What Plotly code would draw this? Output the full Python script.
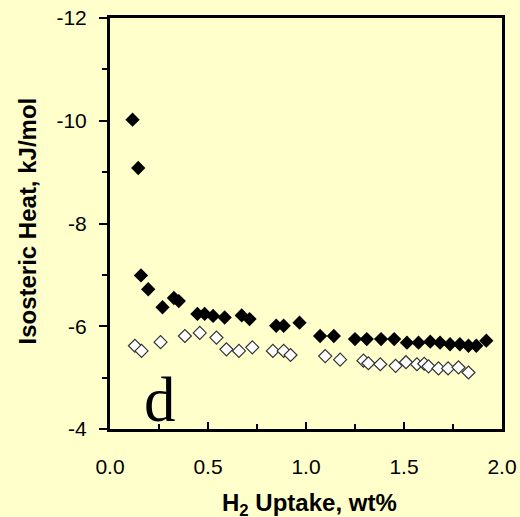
import plotly.graph_objects as go

# Filled diamonds
x_filled = [0.115, 0.144, 0.158, 0.195, 0.268, 0.326, 0.351, 0.446, 0.483, 0.526, 0.585, 0.672, 0.712,
            0.848, 0.886, 0.967, 1.072, 1.142, 1.250, 1.310, 1.383, 1.450, 1.515, 1.574, 1.634, 1.684,
            1.735, 1.785, 1.829, 1.869, 1.920]
y_filled = [-10.02, -9.08, -6.99, -6.72, -6.37, -6.55, -6.49, -6.24, -6.24, -6.20, -6.17, -6.21, -6.14,
            -6.01, -6.01, -6.07, -5.81, -5.81, -5.75, -5.75, -5.75, -5.75, -5.68, -5.68, -5.70, -5.68,
            -5.65, -5.65, -5.62, -5.62, -5.72]

# Open diamonds
x_open = [0.127, 0.161, 0.258, 0.382, 0.458, 0.543, 0.594, 0.658, 0.726, 0.831, 0.886, 0.921,
          1.098, 1.174, 1.293, 1.318, 1.379, 1.457, 1.510, 1.566, 1.603, 1.625, 1.676, 1.725, 1.778, 1.829]
y_open = [-5.62, -5.52, -5.69, -5.81, -5.87, -5.78, -5.55, -5.52, -5.59, -5.52, -5.52, -5.44,
          -5.42, -5.35, -5.33, -5.28, -5.26, -5.23, -5.30, -5.26, -5.27, -5.22, -5.18, -5.18, -5.20, -5.10]

y_tickvals = [-12, -10, -8, -6, -4]
y_ticktext = ["-12", "-10", "-8", "-6", "-4"]
x_tickvals = [0.0, 0.5, 1.0, 1.5, 2.0]
x_ticktext = ["0.0", "0.5", "1.0", "1.5", "2.0"]

bg = "#FFFFCC"

fig = go.Figure()
fig.add_trace(go.Scatter(x=x_open, y=y_open, mode="markers",
                         marker=dict(symbol="diamond", size=10, color="white",
                                     line=dict(color="#333333", width=1.2)),
                         showlegend=False))
fig.add_trace(go.Scatter(x=x_filled, y=y_filled, mode="markers",
                         marker=dict(symbol="diamond", size=11, color="black",
                                     line=dict(width=0)),
                         showlegend=False))

fig.add_annotation(x=0.255, y=-4.0, xref="x", yref="y", text="d", showarrow=False,
                   yanchor="bottom", yshift=-8,
                   font=dict(family="Liberation Serif", size=63, color="black"))

# Axis titles
fig.add_annotation(x=0.51, y=-0.1847, xref="paper", yref="paper", showarrow=False,
                   text="<b>H<sub>2</sub> Uptake, wt%</b>", xanchor="center", yanchor="middle",
                   font=dict(size=24, color="black"))
fig.add_annotation(x=-0.2115, y=0.505, xref="paper", yref="paper", showarrow=False,
                   text="<b>Isosteric Heat, kJ/mol</b>", textangle=-90,
                   xanchor="center", yanchor="middle",
                   font=dict(size=24, color="black"))

fig.update_layout(
    width=520, height=517,
    margin=dict(l=110, r=17.5, t=17.5, b=88),
    paper_bgcolor=bg, plot_bgcolor=bg,
    font=dict(family="Liberation Sans, Arial", color="black"),
    xaxis=dict(range=[0, 2.0], tickvals=x_tickvals, ticktext=x_ticktext,
               ticks="inside", ticklen=7, tickwidth=2, tickcolor="black",
               minor=dict(dtick=0.25, tick0=0, ticks="inside", ticklen=5, tickwidth=2, tickcolor="black"),
               showline=True, linewidth=3, linecolor="black", mirror=True,
               showgrid=False, zeroline=False, automargin=False,
               tickfont=dict(size=21), ticklabelstandoff=17),
    yaxis=dict(range=[-4, -12], tickvals=y_tickvals, ticktext=y_ticktext,
               ticks="outside", ticklen=8, tickwidth=1.5, tickcolor="black",
               minor=dict(dtick=1, tick0=-12, ticks="outside", ticklen=5, tickwidth=1.5, tickcolor="black"),
               showline=True, linewidth=3, linecolor="black", mirror=True,
               showgrid=False, zeroline=False, automargin=False,
               tickfont=dict(size=21), ticklabelstandoff=8),
)

fig.write_html("out.html", config={"displayModeBar": False},
               post_script="document.body.style.margin='0';document.body.style.overflow='hidden';")
